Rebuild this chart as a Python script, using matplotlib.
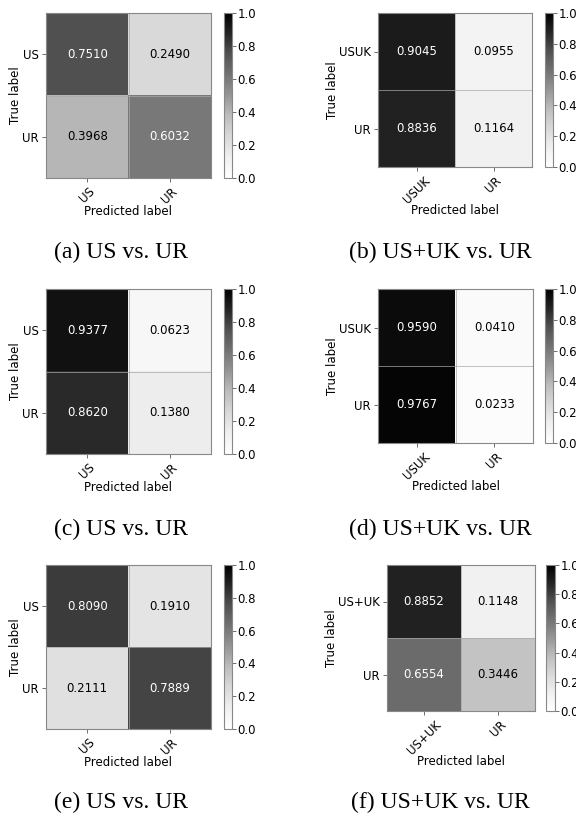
import numpy as np
import matplotlib
matplotlib.use('Agg')
import matplotlib.pyplot as plt

# Matrices de confusión normalizadas
cm_a = [[0.7510, 0.2490], [0.3968, 0.6032]]
cm_b = [[0.9045, 0.0955], [0.8836, 0.1164]]
cm_c = [[0.9377, 0.0623], [0.8620, 0.1380]]
cm_d = [[0.9590, 0.0410], [0.9767, 0.0233]]
cm_e = [[0.8090, 0.1910], [0.2111, 0.7889]]
cm_f = [[0.8852, 0.1148], [0.6554, 0.3446]]

etiquetas_us = ['US', 'UR']
etiquetas_usuk = ['USUK', 'UR']
etiquetas_usmasuk = ['US+UK', 'UR']

titulos = ['(a) US vs. UR', '(b) US+UK vs. UR', '(c) US vs. UR',
           '(d) US+UK vs. UR', '(e) US vs. UR', '(f) US+UK vs. UR']

W, H = 576, 816

# Cajas en pixeles: (izq, arriba, der, abajo) para matriz y barra de color
cajas = [
    ((46, 13, 211, 178), (224, 13, 232, 178), (121, 252)),
    ((378, 13, 532, 167), (545, 13, 553, 167), (440, 252)),
    ((46, 289, 211, 454), (224, 289, 232, 454), (121, 529)),
    ((378, 289, 533, 443), (545, 289, 553, 443), (440, 529)),
    ((46, 565, 211, 729), (224, 565, 232, 729), (121, 802)),
    ((387, 565, 535, 711), (546, 565, 555, 711), (440, 802)),
]

matrices = [cm_a, cm_b, cm_c, cm_d, cm_e, cm_f]
etiquetas = [etiquetas_us, etiquetas_usuk, etiquetas_us,
             etiquetas_usuk, etiquetas_us, etiquetas_usmasuk]


def rect(c):
    x0, y0, x1, y1 = c
    return [x0 / W, (H - y1) / H, (x1 - x0) / W, (y1 - y0) / H]


def graficar_matriz(fig, cm, nombres, caja_ax, caja_cb):
    cm = np.array(cm)
    ax = fig.add_axes(rect(caja_ax))
    cax = fig.add_axes(rect(caja_cb))
    cmap = plt.get_cmap('Greys')
    im = ax.imshow(cm, cmap=cmap, vmin=0, vmax=1, aspect='auto', interpolation='nearest')
    n = len(nombres)
    # bordes suaves entre celdas
    for k in range(1, n):
        ax.axhline(k - 0.5, color='#a8a8a8', lw=0.5)
        ax.axvline(k - 0.5, color='#a8a8a8', lw=0.5)
    umbral = (cm.max() + cm.min()) / 2
    for i in range(cm.shape[0]):
        for j in range(cm.shape[1]):
            color = cmap(0.0) if cm[i, j] > umbral else cmap(1.0)
            ax.text(j, i, f'{cm[i, j]:.4f}', ha='center', va='center',
                    color=color, fontsize=8.5)
    ax.set_xticks(range(n))
    ax.set_yticks(range(n))
    ax.set_xticklabels(nombres, rotation=45, fontsize=8.5)
    ax.set_yticklabels(nombres, fontsize=8.5)
    ax.set_xlabel('Predicted label', fontsize=8.5, labelpad=-1)
    ax.set_ylabel('True label', fontsize=8.5, labelpad=0)
    ax.tick_params(length=3, width=0.6, color='#555555', pad=2)
    for s in ax.spines.values():
        s.set_color('#888888')
        s.set_linewidth(0.8)
    cb = fig.colorbar(im, cax=cax)
    cb.set_ticks(np.arange(0, 1.01, 0.2))
    cb.ax.tick_params(labelsize=8.5, length=3, width=0.6, color='#555555', pad=1)
    cb.outline.set_edgecolor('#888888')
    cb.outline.set_linewidth(0.8)


fig = plt.figure(figsize=(W / 100, H / 100), dpi=100)

for cm, nombres, (caja_ax, caja_cb, pos_tit), titulo in zip(matrices, etiquetas, cajas, titulos):
    graficar_matriz(fig, cm, nombres, caja_ax, caja_cb)
    fig.text(pos_tit[0] / W, 1 - pos_tit[1] / H, titulo, ha='center', va='center',
             fontsize=17, family='Liberation Serif')

fig.savefig('out.png', dpi=100)
